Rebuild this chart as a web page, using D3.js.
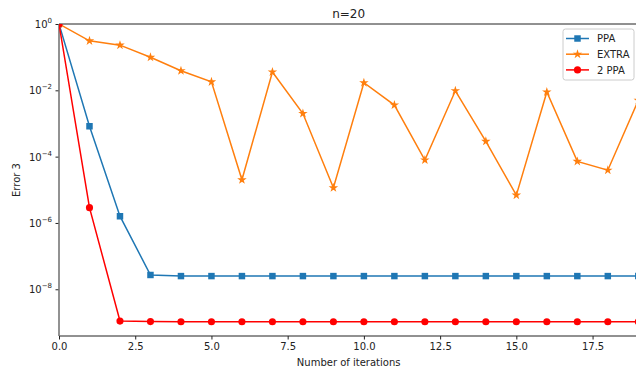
<!DOCTYPE html>
<html>
<head>
<meta charset="utf-8">
<script src="https://cdn.jsdelivr.net/npm/d3@7"></script>
<style>
  body { margin: 0; background: #fff; }
  svg { display: block; font-family: "DejaVu Sans", sans-serif; }
</style>
</head>
<body>
<svg id="chart" width="636" height="374"></svg>
<script>
// data
const iterations = d3.range(0, 20);
const ppa   = [1, 8.3e-4, 1.6e-6, 2.7e-8, 2.5e-8, 2.5e-8, 2.5e-8, 2.5e-8, 2.5e-8, 2.5e-8,
               2.5e-8, 2.5e-8, 2.5e-8, 2.5e-8, 2.5e-8, 2.5e-8, 2.5e-8, 2.5e-8, 2.5e-8, 2.5e-8];
const extra = [1, 0.31, 0.23, 0.099, 0.039, 0.018, 2.0e-5, 0.0356, 2.0e-3, 1.15e-5,
               0.017, 3.6e-3, 7.9e-5, 9.7e-3, 2.9e-4, 6.9e-6, 8.9e-3, 7.2e-5, 3.9e-5, 5e-3];
const ppa2  = [1, 2.9e-6, 1.1e-9, 1.06e-9, 1.05e-9, 1.05e-9, 1.05e-9, 1.05e-9, 1.05e-9, 1.05e-9,
               1.05e-9, 1.05e-9, 1.05e-9, 1.05e-9, 1.05e-9, 1.05e-9, 1.05e-9, 1.05e-9, 1.05e-9, 1.05e-9];
const xTicks = [0, 2.5, 5, 7.5, 10, 12.5, 15, 17.5];
const yTickExps = [0, -2, -4, -6, -8];

const series = [
  { name: "PPA",   values: ppa,   color: "#1f77b4", marker: "square" },
  { name: "EXTRA", values: extra, color: "#ff7f0e", marker: "star" },
  { name: "2 PPA", values: ppa2,  color: "#ff0000", marker: "circle" }
];

const svg = d3.select("#chart");
const mLeft = 59, mTop = 24, mBottom = 336, mRight = 638.3;

const x = d3.scaleLinear().domain([0, 19]).range([mLeft, mRight]);
const y = d3.scaleLog().domain([3.9e-10, 1]).range([mBottom, mTop]);

// clip
svg.append("clipPath").attr("id", "clip")
  .append("rect").attr("x", mLeft).attr("y", mTop)
  .attr("width", mRight - mLeft).attr("height", mBottom - mTop);

// axes
const xAxis = d3.axisBottom(x).tickValues(xTicks).tickFormat(d3.format(".1f"))
  .tickSize(3.5).tickPadding(3.5);
const gx = svg.append("g").attr("transform", `translate(0,${mBottom})`).call(xAxis);
gx.select(".domain").remove();
gx.selectAll("text").attr("font-size", 10).attr("fill", "#222").attr("font-family", "DejaVu Sans");
gx.selectAll("line").attr("stroke", "#222");

const yAxis = d3.axisLeft(y).tickValues(yTickExps.map(e => Math.pow(10, e)))
  .tickFormat("").tickSize(3.5);
const gy = svg.append("g").attr("transform", `translate(${mLeft},0)`).call(yAxis);
gy.select(".domain").remove();
gy.selectAll("line").attr("stroke", "#222");

yTickExps.forEach(e => {
  const t = svg.append("text")
    .attr("x", mLeft - 7).attr("y", y(Math.pow(10, e)) + 4)
    .attr("text-anchor", "end").attr("font-size", 10).attr("fill", "#222");
  t.append("tspan").text("10");
  t.append("tspan").attr("font-size", 7).attr("dy", -5).text(e === 0 ? "0" : "\u2212" + (-e));
});

// spines
svg.append("line").attr("x1", mLeft).attr("x2", 636).attr("y1", mTop).attr("y2", mTop)
  .attr("stroke", "#222").attr("stroke-width", 1);
svg.append("line").attr("x1", mLeft).attr("x2", 636).attr("y1", mBottom).attr("y2", mBottom)
  .attr("stroke", "#222").attr("stroke-width", 1);
svg.append("line").attr("x1", mLeft).attr("x2", mLeft).attr("y1", mTop).attr("y2", mBottom)
  .attr("stroke", "#777").attr("stroke-width", 1.6);

// lines + markers
const plot = svg.append("g").attr("clip-path", "url(#clip)");
const line = d3.line().x((d, i) => x(iterations[i])).y(d => y(d));

const symbols = { square: d3.symbolSquare, star: d3.symbolStar, circle: d3.symbolCircle };
const sizes = { square: 42, star: 28, circle: 40 };

series.forEach(s => {
  plot.append("path").attr("d", line(s.values))
    .attr("fill", "none").attr("stroke", s.color).attr("stroke-width", 1.5);
  plot.selectAll(null).data(s.values).enter().append("path")
    .attr("d", d3.symbol().type(symbols[s.marker]).size(sizes[s.marker]))
    .attr("transform", (d, i) => `translate(${x(iterations[i])},${y(d)})`)
    .attr("fill", s.color);
});

// title and labels
svg.append("text").attr("x", (mLeft + mRight) / 2).attr("y", 18)
  .attr("text-anchor", "middle").attr("font-size", 12).attr("fill", "#222").text("n=20");
svg.append("text").attr("x", (mLeft + mRight) / 2).attr("y", 366)
  .attr("text-anchor", "middle").attr("font-size", 10).attr("fill", "#222").text("Number of iterations");
svg.append("text").attr("transform", `translate(20,${(mTop + mBottom) / 2}) rotate(-90)`)
  .attr("text-anchor", "middle").attr("font-size", 10).attr("fill", "#222").text("Error 3");

// legend
const lg = svg.append("g");
lg.append("rect").attr("x", 563).attr("y", 29).attr("width", 71).attr("height", 51)
  .attr("rx", 2.5).attr("fill", "#fff").attr("fill-opacity", 0.8)
  .attr("stroke", "#ccc").attr("stroke-width", 1);
series.forEach((s, i) => {
  const ly = 38.5 + i * 15.7;
  lg.append("line").attr("x1", 566).attr("x2", 589).attr("y1", ly).attr("y2", ly)
    .attr("stroke", s.color).attr("stroke-width", 1.5);
  lg.append("path").attr("d", d3.symbol().type(symbols[s.marker]).size(sizes[s.marker]))
    .attr("transform", `translate(577.5,${ly})`).attr("fill", s.color);
  lg.append("text").attr("x", 597).attr("y", ly + 3.6).attr("font-size", 10)
    .attr("fill", "#222").text(s.name);
});
</script>
</body>
</html>
